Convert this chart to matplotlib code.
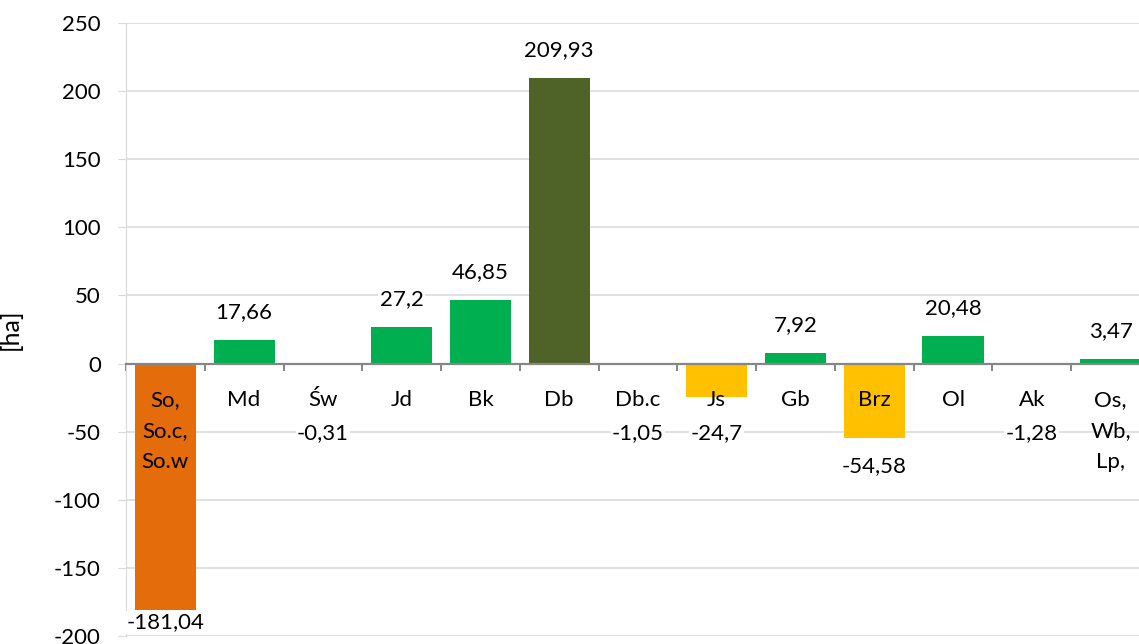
import matplotlib
matplotlib.use("Agg")
import matplotlib.pyplot as plt
import numpy as np

# data
categories = ["So,\nSo.c,\nSo.w", "Md", "Św", "Jd", "Bk", "Db", "Db.c",
              "Js", "Gb", "Brz", "Ol", "Ak", "Os,\nWb,\nLp,"]
values = [-181.04, 17.66, -0.31, 27.2, 46.85, 209.93, -1.05,
          -24.7, 7.92, -54.58, 20.48, -1.28, 3.47]
bar_colors = ["#E46C0A", "#00B050", "#00B050", "#00B050", "#00B050", "#4F6228",
              "#C6E6D9", "#FFC000", "#00B050", "#FFC000", "#00B050", "#FFC000",
              "#00B050"]
y_ticks = [-200, -150, -100, -50, 0, 50, 100, 150, 200, 250]

plt.rcParams['font.family'] = ['Lato', 'DejaVu Sans']
plt.rcParams['axes.unicode_minus'] = False

fig = plt.figure(figsize=(11.39, 6.44), dpi=100)
# right edge sits a little past the figure, as in the cropped original
ax = fig.add_axes([0.1106, 0.0124, 0.8990, 0.9519])

x = np.arange(len(categories))
ax.bar(x, values, width=0.775, color=bar_colors, zorder=2)

ax.set_xlim(-0.5, len(categories) - 0.5)
ax.set_ylim(-200, 250)
ax.set_yticks(y_ticks)
ax.yaxis.grid(True, color="#d9d9d9", linewidth=1.1, zorder=0)
ax.set_axisbelow(True)

for s in ["top", "right"]:
    ax.spines[s].set_visible(False)
ax.spines["left"].set_color("#d9d9d9")
ax.spines["bottom"].set_position(("data", 0))
ax.spines["bottom"].set_color("#868686")
ax.spines["bottom"].set_linewidth(1.6)
ax.spines["bottom"].set_zorder(4)

ax.tick_params(axis="y", length=6, color="#d9d9d9", pad=12, labelsize=16,
               labelcolor="black")
ax.set_xticks(np.arange(-0.5, len(categories), 1.0))
ax.set_xticklabels([])
ax.tick_params(axis="x", direction="out", length=5, width=1.4, color="#868686")

# category names under the zero line
for xi, cat in zip(x, categories):
    ax.annotate(cat, (xi, 0), xytext=(0, -19), textcoords="offset points",
                ha="center", va="top", fontsize=16, linespacing=1.7, zorder=5)

# value labels
for xi, v in zip(x, values):
    txt = f"{v:g}".replace(".", ",")
    if v >= 0:
        ly = v + 20
    else:
        ly = max(min(v, -30) - 21, -190)
    ax.text(xi, ly, txt, ha="center", va="center", fontsize=16, zorder=5,
            bbox=dict(facecolor="white", edgecolor="none", pad=1))

ax.set_ylabel("[ha]", fontsize=18)
ax.yaxis.set_label_coords(-0.1016, 0.5)

fig.savefig("out.png", dpi=100)
